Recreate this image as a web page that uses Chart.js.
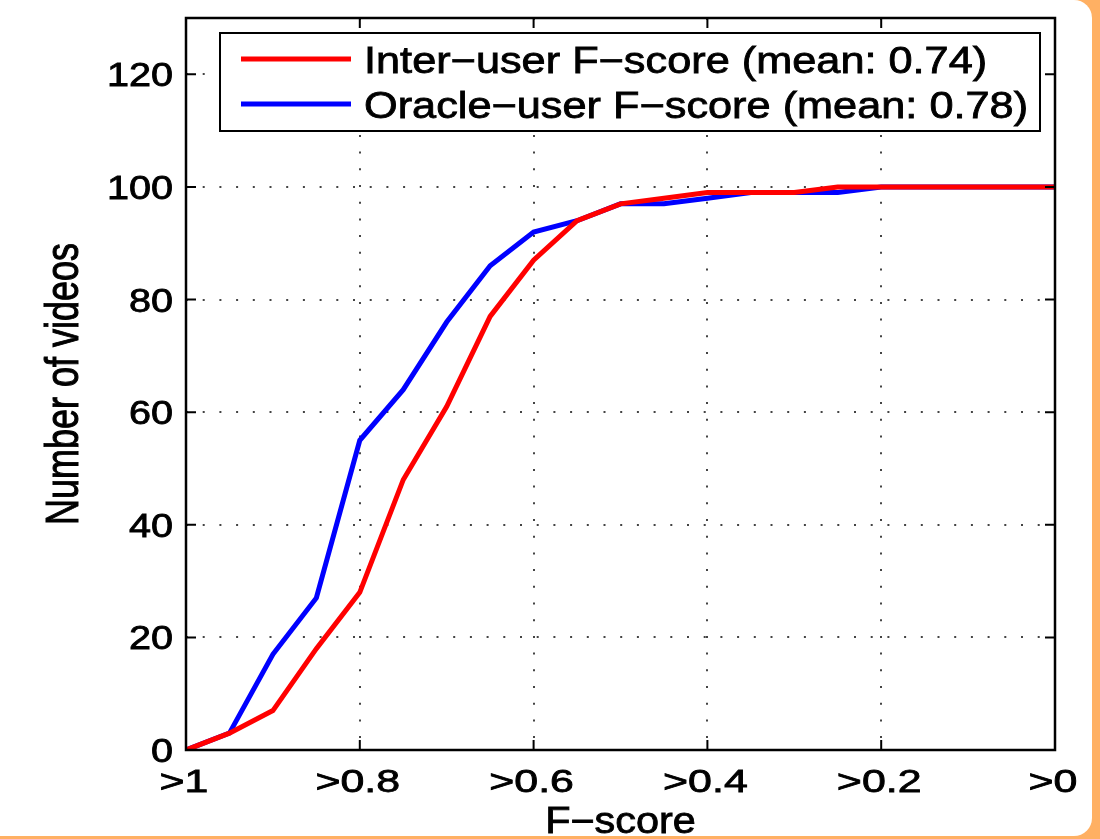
<!DOCTYPE html>
<html>
<head>
<meta charset="utf-8">
<script src="https://cdn.jsdelivr.net/npm/chart.js@4.4.1/dist/chart.umd.min.js"></script>
<style>
  html, body { margin: 0; padding: 0; }
  body { width: 1100px; height: 839px; background: #ffb063; overflow: hidden; position: relative; }
  #panel { position: absolute; left: 0; top: 0; width: 1092px; height: 836px; background: #fff;
           border-top-right-radius: 18px; border-bottom-right-radius: 18px; }
  #wrap { position: absolute; left: 0; top: 0; width: 1100px; height: 839px; }
</style>
</head>
<body>
<div id="panel"></div>
<div id="wrap"><canvas id="myChart" width="1100" height="839"></canvas></div>
<script>
// F-score thresholds (x axis, read right to left)
const fScores = [1, 0.95, 0.9, 0.85, 0.8, 0.75, 0.7, 0.65, 0.6, 0.55, 0.5,
                 0.45, 0.4, 0.35, 0.3, 0.25, 0.2, 0.15, 0.1, 0.05, 0];
const interUser  = [0, 3, 7, 18, 28, 48, 61, 77, 87, 94, 97, 98, 99, 99, 99, 100, 100, 100, 100, 100, 100];
const oracleUser = [0, 3, 17, 27, 55, 64, 76, 86, 92, 94, 97, 97, 98, 99, 99, 99, 100, 100, 100, 100, 100];
const xTicks = [1, 0.8, 0.6, 0.4, 0.2, 0];
const yTicks = [0, 20, 40, 60, 80, 100, 120];
const seriesNames = ['Inter\u2212user F\u2212score (mean: 0.74)', 'Oracle\u2212user F\u2212score (mean: 0.78)'];
const xTitle = 'F\u2212score';
const yTitle = 'Number of videos';

const FONT = '"Liberation Sans", Arial, Helvetica, sans-serif';

// the original figure is stretched sideways, so text gets a horizontal scale
function stretchedText(ctx, text, x, y, size, sx, align, rot) {
    ctx.save();
    ctx.translate(x, y);
    if (rot) ctx.rotate(rot);
    if (rot) ctx.scale(1, sx); else ctx.scale(sx, 1);
    ctx.font = size + 'px ' + FONT;
    ctx.fillStyle = '#000';
    ctx.strokeStyle = '#000';
    ctx.lineWidth = 0.8;
    ctx.textAlign = align;
    ctx.textBaseline = 'alphabetic';
    ctx.fillText(text, 0, 0);
    ctx.strokeText(text, 0, 0);
    ctx.restore();
}

// box, inward ticks, labels and legend drawn matlab-style
const boxPlugin = {
    id: 'boxPlugin',
    afterDraw(chart) {
        const ctx = chart.ctx;
        const a = chart.chartArea;
        const xs = chart.scales.x, ys = chart.scales.y;
        ctx.save();
        ctx.strokeStyle = '#000';
        ctx.lineWidth = 2;
        ctx.beginPath();
        xTicks.forEach(v => {
            const px = xs.getPixelForValue(v);
            ctx.moveTo(px, a.bottom); ctx.lineTo(px, a.bottom - 10);
            ctx.moveTo(px, a.top); ctx.lineTo(px, a.top + 10);
        });
        yTicks.forEach(v => {
            const py = ys.getPixelForValue(v);
            ctx.moveTo(a.left, py); ctx.lineTo(a.left + 10, py);
            ctx.moveTo(a.right, py); ctx.lineTo(a.right - 10, py);
        });
        ctx.stroke();
        ctx.lineWidth = 2.5;
        ctx.strokeRect(a.left, a.top, a.right - a.left, a.bottom - a.top);

        // tick labels
        xTicks.forEach(v => {
            stretchedText(ctx, '>' + v, xs.getPixelForValue(v) - 2, a.bottom + 42, 32, 1.34, 'center');
        });
        yTicks.forEach(v => {
            stretchedText(ctx, String(v), a.left - 13, ys.getPixelForValue(v) + 12, 33, 1.2, 'right');
        });
        // axis titles
        stretchedText(ctx, xTitle, (a.left + a.right) / 2, a.bottom + 83, 36, 1.15, 'center');
        stretchedText(ctx, yTitle, 78, (a.top + a.bottom) / 2, 36, 1.3, 'center', -Math.PI / 2);

        // legend
        const lx = a.left + 34, ly = a.top + 15, lw = 820, lh = 98;
        ctx.fillStyle = '#fff';
        ctx.fillRect(lx, ly, lw, lh);
        ctx.lineWidth = 2;
        ctx.strokeStyle = '#000';
        ctx.strokeRect(lx, ly, lw, lh);
        chart.data.datasets.forEach((ds, i) => {
            const cy = ly + 26 + i * 45;
            ctx.strokeStyle = ds.borderColor;
            ctx.lineWidth = 5;
            ctx.beginPath();
            ctx.moveTo(lx + 21, cy); ctx.lineTo(lx + 131, cy);
            ctx.stroke();
            stretchedText(ctx, ds.label, lx + 144, cy + 14, 37, 1.17, 'left');
        });
        ctx.restore();
    }
};

const gridOpts = { color: '#444', lineWidth: 2, drawTicks: false };
const borderOpts = { display: false, dash: [2, 14.7] };

const ctx = document.getElementById('myChart').getContext('2d');
const myChart = new Chart(ctx, {
    type: 'line',
    data: {
        datasets: [
            {
                label: seriesNames[0],
                data: fScores.map((f, i) => ({ x: f, y: interUser[i] })),
                borderColor: '#ff0000',
                borderWidth: 5,
                pointRadius: 0,
                tension: 0
            },
            {
                label: seriesNames[1],
                data: fScores.map((f, i) => ({ x: f, y: oracleUser[i] })),
                borderColor: '#0000ff',
                borderWidth: 5,
                pointRadius: 0,
                tension: 0
            }
        ]
    },
    options: {
        responsive: false,
        animation: false,
        layout: { padding: { top: 18, right: 45, left: 0, bottom: 0 } },
        plugins: { legend: { display: false }, tooltip: { enabled: false } },
        scales: {
            x: {
                type: 'linear',
                reverse: true,
                min: 0,
                max: 1,
                afterBuildTicks: s => { s.ticks = xTicks.map(v => ({ value: v })); },
                afterFit: s => { s.height = 89; },
                grid: gridOpts,
                border: borderOpts,
                ticks: { display: false }
            },
            y: {
                min: 0,
                max: 130,
                afterBuildTicks: s => { s.ticks = yTicks.map(v => ({ value: v })); },
                afterFit: s => { s.width = 186; },
                grid: gridOpts,
                border: borderOpts,
                ticks: { display: false }
            }
        }
    },
    plugins: [boxPlugin]
});
</script>
</body>
</html>
